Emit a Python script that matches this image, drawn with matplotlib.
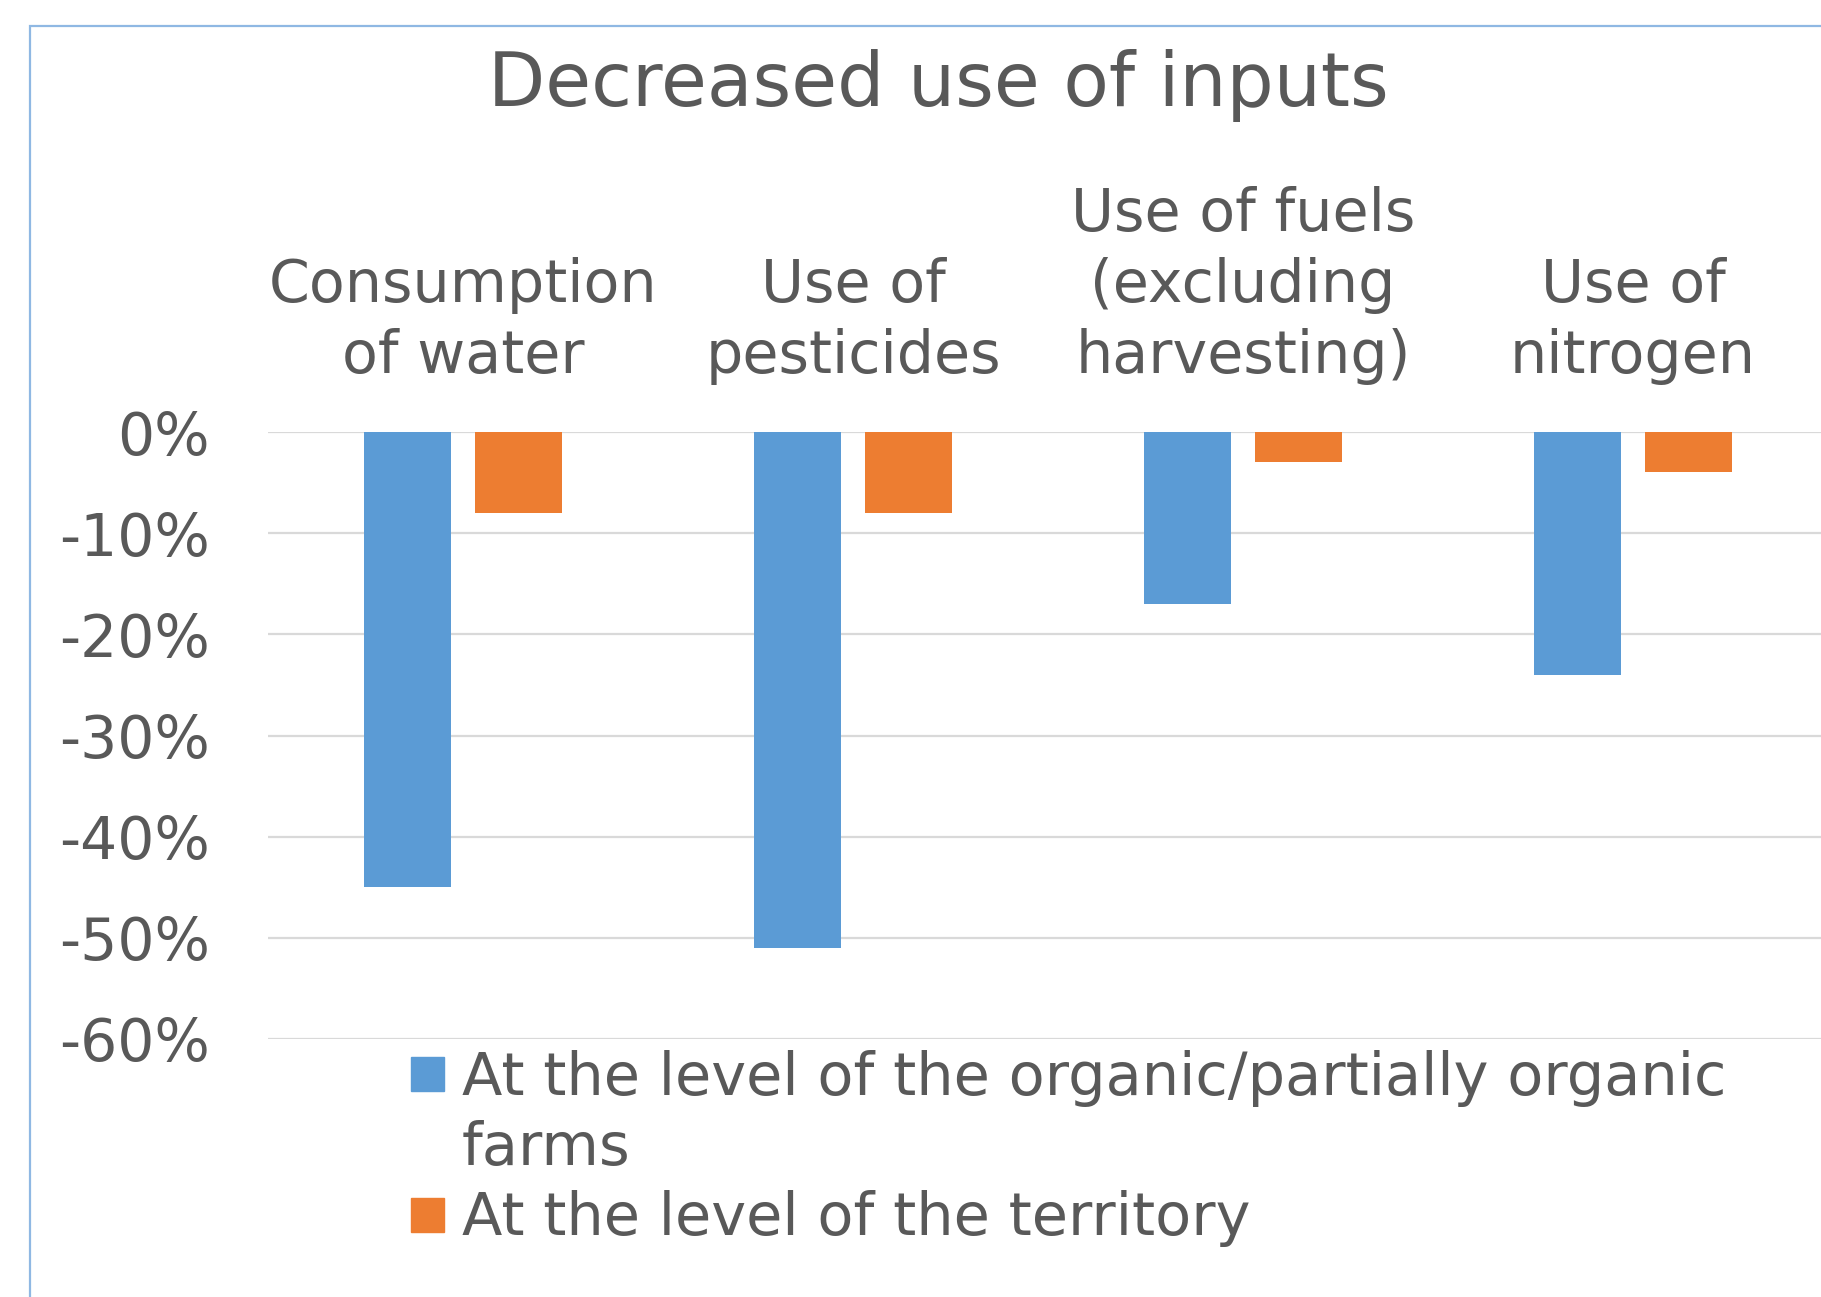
import matplotlib
matplotlib.use("Agg")
import matplotlib.pyplot as plt
import numpy as np
from matplotlib.patches import Rectangle
from matplotlib.transforms import ScaledTranslation
from matplotlib.ticker import FuncFormatter

categories = ["Consumption\nof water", "Use of\npesticides",
              "Use of fuels\n(excluding\nharvesting)", "Use of\nnitrogen"]
farm_vals = [-45, -51, -17, -24]
territory_vals = [-8, -8, -3, -4]
series_names = [["At the level of the organic/partially organic", "farms"],
                ["At the level of the territory"]]
yticks = [0, -10, -20, -30, -40, -50, -60]

blue = "#5b9bd5"
orange = "#ed7d31"
txt = "#595959"
W, H = 1821, 1297

plt.rcParams['font.family'] = ['DejaVu Sans']
fig = plt.figure(figsize=(W / 100, H / 100), dpi=100)

# outer chart frame (cropped on right and bottom)
fig.patches.append(Rectangle((30 / W, -0.1), 1.2, 1 - 26 / H + 0.1, transform=fig.transFigure,
                             fill=False, edgecolor="#8fb8e3", linewidth=1.6))

ax = fig.add_axes([268 / W, 1 - 1039 / H, (1828 - 268) / W, (1039 - 432) / H])
x = np.arange(len(categories))
ax.bar(x - 0.142, farm_vals, width=0.223, color=blue, zorder=3)
ax.bar(x + 0.142, territory_vals, width=0.223, color=orange, zorder=3)

ax.set_xlim(-0.5, 3.5)
ax.set_ylim(-60, 0)
ax.set_yticks(yticks)
ax.yaxis.set_major_formatter(FuncFormatter(lambda v, p: f"{int(round(v))}%"))
ax.tick_params(axis='y', length=0, pad=42, labelsize=42, labelcolor=txt)
ax.set_xticks([])
ax.grid(axis='y', color="#d9d9d9", linewidth=1.6, zorder=0)
for s in ax.spines.values():
    s.set_visible(False)

# category labels above the zero line, one line at a time (71 px step)
for i, c in enumerate(categories):
    lines = c.split("\n")
    for k, line in enumerate(reversed(lines)):
        off = ax.get_xaxis_transform() + ScaledTranslation(0, (59 + 71 * k) / 100, fig.dpi_scale_trans)
        ax.text(i, 1, line, transform=off, ha='center', va='baseline', fontsize=42.2,
                color=txt, clip_on=False)

fig.text(938 / W, 1 - 106 / H, "Decreased use of inputs", ha='center', va='baseline',
         fontsize=53.6, color=txt)

# legend drawn by hand so the marker sits on the first text line
leg = [(blue, 1057, 1091, 1095, series_names[0]),
       (orange, 1198, 1232, 1235, series_names[1])]
for col, top, bot, base, lab in leg:
    fig.patches.append(Rectangle((411 / W, 1 - bot / H), 33 / W, (bot - top) / H,
                                 transform=fig.transFigure, color=col))
    for k, line in enumerate(lab):
        fig.text(462 / W, 1 - (base + 70 * k) / H, line, ha='left', va='baseline',
                 fontsize=42.5, color=txt)

fig.savefig("out.png", dpi=100)
